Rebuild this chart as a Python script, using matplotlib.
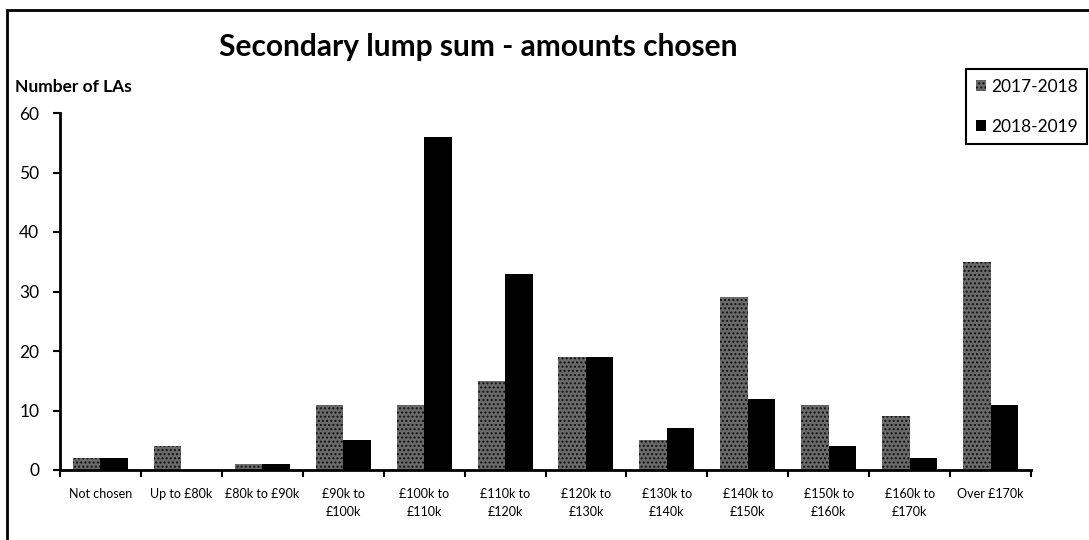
import matplotlib
matplotlib.use("Agg")
import matplotlib.pyplot as plt
import matplotlib.patches as mpatches
import numpy as np

categories = ["Not chosen", "Up to £80k", "£80k to £90k", "£90k to\n£100k", "£100k to\n£110k",
              "£110k to\n£120k", "£120k to\n£130k", "£130k to\n£140k", "£140k to\n£150k",
              "£150k to\n£160k", "£160k to\n£170k", "Over £170k"]
series_names = ["2017-2018", "2018-2019"]
values_2017 = [2, 4, 1, 11, 11, 15, 19, 5, 29, 11, 9, 35]
values_2018 = [2, 0, 1, 5, 56, 33, 19, 7, 12, 4, 2, 11]
y_ticks = [0, 10, 20, 30, 40, 50, 60]

plt.rcParams['font.family'] = ['Lato', 'DejaVu Sans']
plt.rcParams['hatch.linewidth'] = 1.0

W, H = 1089, 540
fig = plt.figure(figsize=(W / 100, H / 100), dpi=100)
ax = fig.add_axes([60 / W, 1 - 470 / H, (1031 - 60) / W, (470 - 113) / H])

x = np.arange(len(categories))
bw = 0.34
grey_kw = dict(color="#6a6a6a", hatch="....", edgecolor="#111111", linewidth=0)
ax.bar(x - bw / 2, values_2017, width=bw, label=series_names[0], **grey_kw)
ax.bar(x + bw / 2, values_2018, width=bw, color="black", label=series_names[1], linewidth=0)

ax.set_xlim(-0.5, len(categories) - 0.5)
ax.set_ylim(0, 60)
ax.set_yticks(y_ticks)
ax.tick_params(axis='y', labelsize=12.5, direction='out', length=5, width=1.5, pad=10)
ax.set_xticks(x)
ax.set_xticklabels(categories, fontsize=9, linespacing=1.6)
ax.tick_params(axis='x', length=0, pad=13)
ax.set_xticks(np.arange(-0.5, len(categories) + 0.5, 1), minor=True)
ax.tick_params(axis='x', which='minor', direction='out', length=5, width=1.5)
for s in ['top', 'right']:
    ax.spines[s].set_visible(False)
for s in ['left', 'bottom']:
    ax.spines[s].set_linewidth(2)

fig.text(478 / W, 1 - 47 / H, "Secondary lump sum - amounts chosen", ha='center', va='center',
         fontsize=21.5, fontweight='bold')
fig.text(15 / W, 1 - 87 / H, "Number of LAs", ha='left', va='center', fontsize=12.5, fontweight='bold')

handles = [mpatches.Patch(facecolor="#6a6a6a", hatch="....", edgecolor="#111111", linewidth=0),
           mpatches.Patch(facecolor="black", linewidth=0)]
leg = fig.legend(handles, series_names, loc='upper left',
                 bbox_to_anchor=(966 / W, 1 - 69 / H), fontsize=12.5,
                 handlelength=0.6, handleheight=0.6, handletextpad=0.3,
                 labelspacing=1.4, fancybox=False, framealpha=1, borderpad=0.55,
                 borderaxespad=0)
leg.get_frame().set_edgecolor('black')
leg.get_frame().set_linewidth(1.5)

border = mpatches.Rectangle((7 / W, -0.1), 1.2, (1 - 10 / H) + 0.1, transform=fig.transFigure,
                            fill=False, edgecolor='black', linewidth=2, clip_on=False)
fig.patches.append(border)

fig.savefig("out.png", dpi=100)
